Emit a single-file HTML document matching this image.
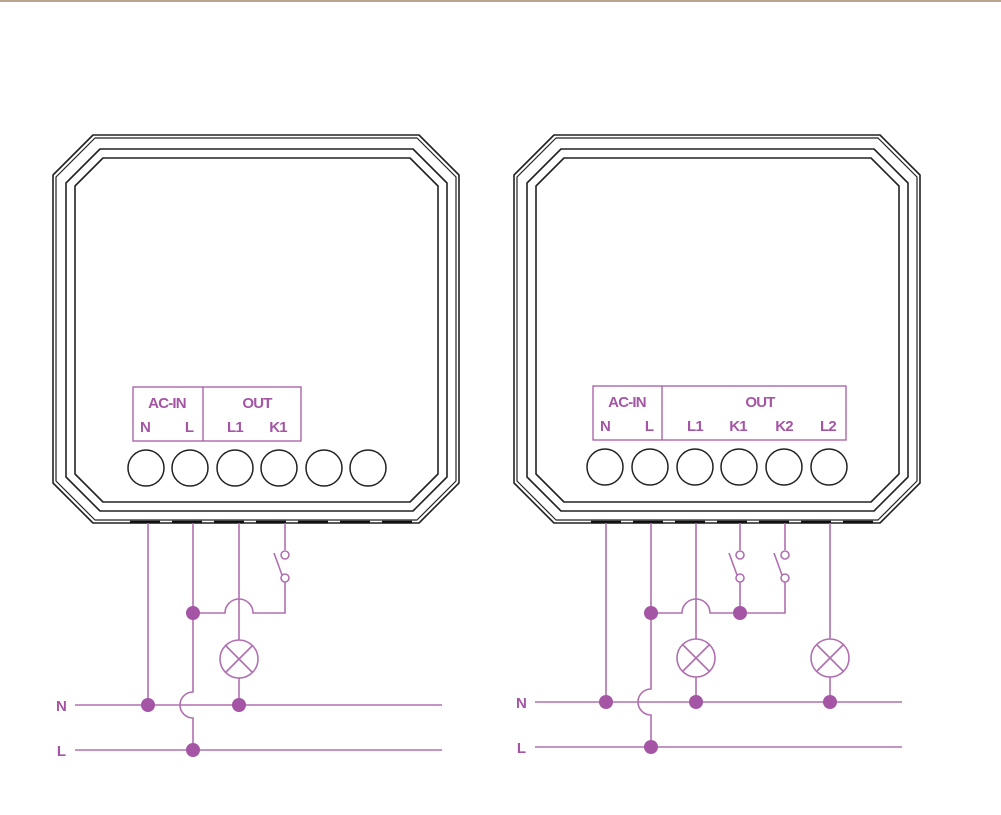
<!DOCTYPE html>
<html><head><meta charset="utf-8"><style>
html,body{margin:0;padding:0;background:#fff;}
svg{display:block}
.t{font-family:"Liberation Sans Narrow","Liberation Sans",sans-serif;font-weight:bold;fill:#a455a4;font-size:15px;text-anchor:middle;letter-spacing:-0.8px}
</style></head><body>
<svg width="1001" height="815" viewBox="0 0 1001 815" xmlns="http://www.w3.org/2000/svg">
<rect x="0" y="0" width="1001" height="2" fill="#b9a48c"/>
<defs>
<g id="box" fill="none" stroke="#222" stroke-width="1.6" stroke-linejoin="round">
<polygon points="93,135 419,135 459,175 459,483 419,523 93,523 53,483 53,175"/>
<polygon points="95,138 417,138 456,177 456,481 417,520 95,520 56,481 56,177" stroke-width="1.2"/>
<polygon points="100,149 413,149 447,183 447,477 413,511 100,511 66,477 66,183"/>
<polygon points="103,158 410,158 438,186 438,474 410,502 103,502 75,474 75,186"/>
<line x1="130" y1="522" x2="420" y2="522" stroke="#111" stroke-width="2.5" stroke-dasharray="30,12"/>
</g>
</defs>
<use href="#box"/>
<use href="#box" x="461"/>
<g fill="none" stroke="#222" stroke-width="1.5">
<circle cx="146" cy="468" r="18"/><circle cx="190" cy="468" r="18"/><circle cx="235" cy="468" r="18"/><circle cx="279" cy="468" r="18"/><circle cx="324" cy="468" r="18"/><circle cx="368" cy="468" r="18"/>
<circle cx="605" cy="467" r="18"/><circle cx="650" cy="467" r="18"/><circle cx="695" cy="467" r="18"/><circle cx="739" cy="467" r="18"/><circle cx="784" cy="467" r="18"/><circle cx="829" cy="467" r="18"/>
</g>
<g fill="none" stroke="#a65aa6" stroke-width="1.3">
<rect x="133" y="387" width="168" height="54"/><line x1="203" y1="387" x2="203" y2="441"/>
<rect x="593" y="386" width="253" height="54"/><line x1="662" y1="386" x2="662" y2="440"/>
</g>
<text class="t" x="167" y="408">AC-IN</text><text class="t" x="257" y="408">OUT</text>
<text class="t" x="145" y="432">N</text><text class="t" x="189" y="432">L</text><text class="t" x="235" y="432">L1</text><text class="t" x="278" y="432">K1</text>
<text class="t" x="627" y="407">AC-IN</text><text class="t" x="760" y="407">OUT</text>
<text class="t" x="605" y="431">N</text><text class="t" x="649" y="431">L</text><text class="t" x="695" y="431">L1</text><text class="t" x="738" y="431">K1</text><text class="t" x="784" y="431">K2</text><text class="t" x="828" y="431">L2</text>
<text class="t" x="61" y="711">N</text><text class="t" x="61" y="756">L</text>
<text class="t" x="521" y="708">N</text><text class="t" x="521" y="753">L</text>
<g fill="none" stroke="#b070b0" stroke-width="1.6">
<line x1="75" y1="705" x2="442" y2="705"/><line x1="75" y1="750" x2="442" y2="750"/>
<line x1="148" y1="523" x2="148" y2="705"/>
<path d="M193 523 V692 A13 13 0 0 0 193 718 V750"/>
<line x1="239" y1="523" x2="239" y2="640"/><line x1="239" y1="678" x2="239" y2="705"/>
<circle cx="239" cy="659" r="19"/><path d="M226 646 L252 672 M252 646 L226 672"/>
<path d="M285 523 V550 M285 582 V613 H253 A14 14 0 0 0 225 613 H193"/>
<circle cx="285" cy="555" r="4"/><circle cx="285" cy="578" r="4"/><line x1="274" y1="553" x2="282" y2="575"/>
</g>
<g fill="#a455a4"><circle cx="148" cy="705" r="7"/><circle cx="239" cy="705" r="7"/><circle cx="193" cy="750" r="7"/><circle cx="193" cy="613" r="7"/></g>
<g fill="none" stroke="#b070b0" stroke-width="1.6">
<line x1="535" y1="702" x2="902" y2="702"/><line x1="535" y1="747" x2="902" y2="747"/>
<line x1="606" y1="523" x2="606" y2="702"/>
<path d="M651 523 V689 A13 13 0 0 0 651 715 V747"/>
<line x1="696" y1="523" x2="696" y2="639"/><line x1="696" y1="677" x2="696" y2="702"/>
<circle cx="696" cy="658" r="19"/><path d="M683 645 L709 671 M709 645 L683 671"/>
<line x1="830" y1="523" x2="830" y2="639"/><line x1="830" y1="677" x2="830" y2="702"/>
<circle cx="830" cy="658" r="19"/><path d="M817 645 L843 671 M843 645 L817 671"/>
<path d="M740 523 V550 M740 582 V613 M785 523 V550 M785 582 V613 H710 A14 14 0 0 0 682 613 H651"/>
<circle cx="740" cy="555" r="4"/><circle cx="740" cy="578" r="4"/><line x1="729" y1="553" x2="737" y2="575"/>
<circle cx="785" cy="555" r="4"/><circle cx="785" cy="578" r="4"/><line x1="774" y1="553" x2="782" y2="575"/>
</g>
<g fill="#a455a4"><circle cx="606" cy="702" r="7"/><circle cx="696" cy="702" r="7"/><circle cx="830" cy="702" r="7"/><circle cx="651" cy="747" r="7"/><circle cx="651" cy="613" r="7"/><circle cx="740" cy="613" r="7"/></g>
</svg>
</body></html>
